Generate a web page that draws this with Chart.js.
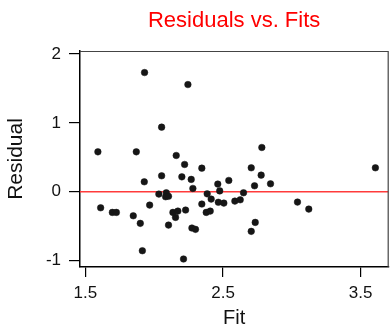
<!DOCTYPE html>
<html>
<head>
<meta charset="utf-8">
<script src="https://cdn.jsdelivr.net/npm/chart.js@4/dist/chart.umd.min.js"></script>
<style>
  html, body { margin: 0; padding: 0; background: #fff; }
  #wrap { width: 392px; height: 335px; position: relative; }
</style>
</head>
<body>
<div id="wrap"><canvas id="chart"></canvas></div>
<script>
// Fitted values and their residuals (one entry per observation)
const fits = [
  1.930, 2.245, 2.054, 1.591, 1.870, 2.160, 2.782, 2.221, 2.346, 2.054,
  2.201, 2.269, 1.928, 2.281, 2.462, 2.476, 2.034, 2.088, 2.083, 2.104,
  2.385, 2.414, 2.466, 2.346, 1.967, 1.611, 1.696, 1.725, 2.378, 2.407,
  2.228, 2.136, 2.172, 2.155, 1.848, 1.899, 2.104, 2.274, 2.300, 1.914,
  2.213, 2.705, 2.777, 3.607, 2.542, 2.729, 2.845, 2.649, 2.506, 2.586,
  2.625, 3.041, 3.123, 2.734, 2.705
];
const residuals = [
  1.730, 1.556, 0.938, 0.580, 0.580, 0.527, 0.643, 0.397, 0.343, 0.232,
  0.217, 0.180, 0.145, 0.049, 0.112, 0.013, -0.033, -0.014, -0.072, -0.065,
  -0.030, -0.106, -0.152, -0.178, -0.193, -0.232, -0.299, -0.299, -0.299, -0.280,
  -0.265, -0.299, -0.280, -0.371, -0.348, -0.458, -0.483, -0.526, -0.545, -0.855,
  -0.975, 0.348, 0.242, 0.348, 0.165, 0.087, 0.116, -0.014, -0.164, -0.135,
  -0.116, -0.149, -0.251, -0.444, -0.574
];

// Axis ticks and reference level
const xTickValues = [1.5, 2.5, 3.5];
const yTickValues = [-1, 0, 1, 2];
const referenceLevels = [0];

const points = fits.map((f, i) => ({ x: f, y: residuals[i] }));

const FONT = "'Liberation Sans', Arial, sans-serif";

// Horizontal reference line(s) under the points, plus the thin top/right frame
const framePlugin = {
  id: 'frameAndReference',
  beforeDatasetsDraw(chart) {
    const { ctx, chartArea: a, scales } = chart;
    ctx.save();
    ctx.strokeStyle = '#ff3b3b';
    ctx.lineWidth = 1.5;
    referenceLevels.forEach(v => {
      const y = scales.y.getPixelForValue(v);
      ctx.beginPath();
      ctx.moveTo(a.left, y);
      ctx.lineTo(a.right, y);
      ctx.stroke();
    });
    ctx.strokeStyle = '#444';
    ctx.lineWidth = 1.2;
    ctx.beginPath();
    ctx.moveTo(a.left, a.top + 0.5);
    ctx.lineTo(a.right, a.top + 0.5);
    ctx.lineTo(a.right, a.bottom);
    ctx.stroke();
    ctx.restore();
  }
};

new Chart(document.getElementById('chart'), {
  type: 'scatter',
  data: {
    datasets: [{
      data: points,
      pointRadius: 3.3,
      pointHoverRadius: 3.3,
      pointBackgroundColor: '#161616',
      pointBorderColor: '#161616',
      pointBorderWidth: 0.5
    }]
  },
  options: {
    responsive: true,
    maintainAspectRatio: false,
    devicePixelRatio: 1,
    animation: false,
    events: [],
    layout: { padding: { left: 0, right: 3, top: 0, bottom: 0 } },
    plugins: {
      legend: { display: false },
      tooltip: { enabled: false },
      title: {
        display: true,
        text: 'Residuals vs. Fits',
        color: '#ff0000',
        fullSize: false,
        font: { family: FONT, size: 22, weight: 'normal', lineHeight: 1.2 },
        padding: { top: 8, bottom: 16.6 }
      }
    },
    scales: {
      x: {
        type: 'linear',
        min: 1.461,
        max: 3.70,
        afterBuildTicks: s => { s.ticks = xTickValues.map(v => ({ value: v })); },
        afterFit: s => { s.height = 68; },
        ticks: {
          color: '#111',
          font: { family: FONT, size: 17 },
          padding: 6,
          maxRotation: 0,
          callback: v => v.toFixed(1)
        },
        grid: { drawOnChartArea: false, drawTicks: true, tickLength: 10, color: '#000', lineWidth: 1.2 },
        border: { display: true, color: '#000', width: 1.5 },
        title: {
          display: true,
          text: 'Fit',
          color: '#111',
          font: { family: FONT, size: 20, lineHeight: 1.2 },
          padding: { top: 0, bottom: 5 }
        }
      },
      y: {
        type: 'linear',
        min: -1.091,
        max: 2.043,
        afterBuildTicks: s => { s.ticks = yTickValues.map(v => ({ value: v })); },
        afterFit: s => { s.width = 80; },
        ticks: {
          color: '#111',
          font: { family: FONT, size: 17 },
          padding: 8,
          callback: v => String(v)
        },
        grid: { drawOnChartArea: false, drawTicks: true, tickLength: 11, color: '#000', lineWidth: 1.2 },
        border: { display: true, color: '#000', width: 1.5 },
        title: {
          display: true,
          text: 'Residual',
          color: '#111',
          font: { family: FONT, size: 21, lineHeight: 1.2 },
          padding: { top: 4, bottom: 0 }
        }
      }
    }
  },
  plugins: [framePlugin]
});
</script>
</body>
</html>
